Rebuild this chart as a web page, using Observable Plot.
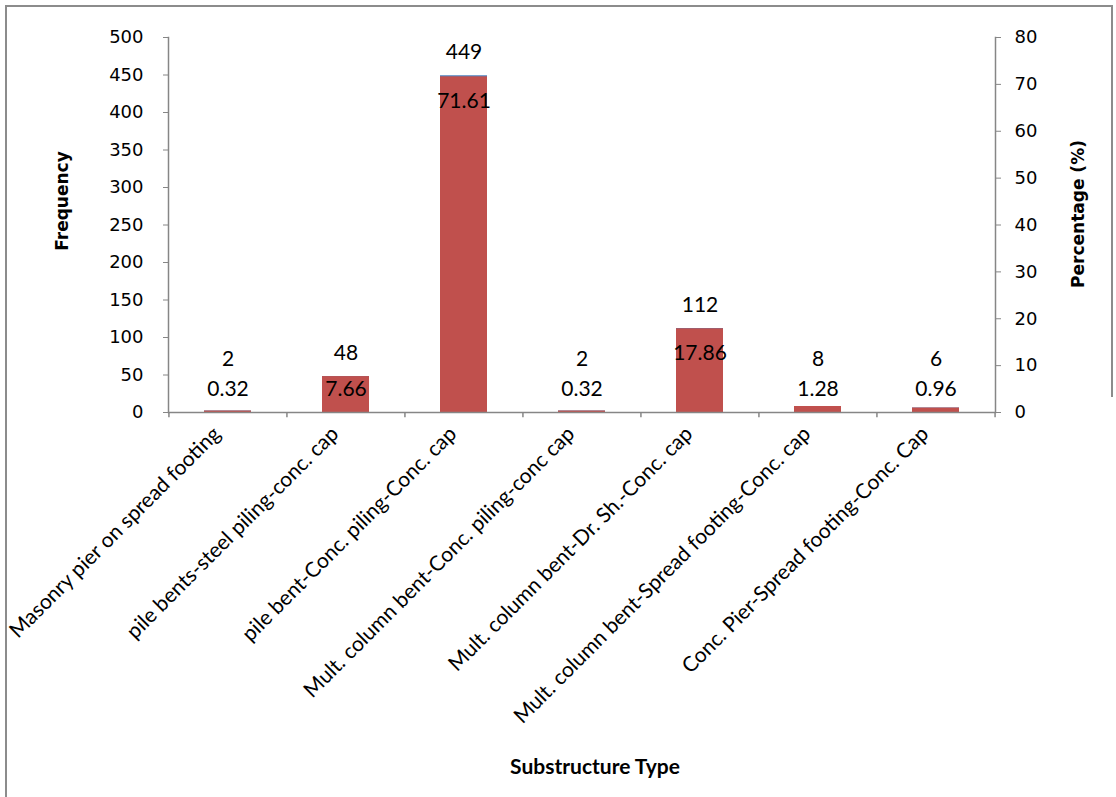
<!DOCTYPE html>
<html>
<head>
<meta charset="utf-8">
<script src="https://cdn.jsdelivr.net/npm/d3@7"></script>
<script src="https://cdn.jsdelivr.net/npm/@observablehq/plot@0.6"></script>
<style>
  html, body { margin: 0; padding: 0; background: white; }
  #wrap { position: relative; width: 1116px; height: 797px; background: white; overflow: hidden; }
  .layer { position: absolute; left: 0; top: 0; }
  .frameTop { position: absolute; left: 5px; top: 5px; width: 1108px; height: 0; border-top: 2px solid #8c8c8c; }
  .frameLeft { position: absolute; left: 5px; top: 5px; width: 0; height: 792px; border-left: 2px solid #8c8c8c; }
  .frameRight { position: absolute; left: 1111px; top: 5px; width: 0; height: 392px; border-left: 2px solid #8c8c8c; }
  .title { position: absolute; font-family: "DejaVu Sans", sans-serif; font-weight: bold; font-size: 17px; color: #000; white-space: nowrap; }
  .xtitle { position: absolute; font-family: Lato, sans-serif; font-weight: bold; font-size: 21px; color: #000; white-space: nowrap; }
</style>
</head>
<body>
<div id="wrap">
  <div class="frameTop"></div>
  <div class="frameLeft"></div>
  <div class="frameRight"></div>
  <div class="layer" id="p1"></div>
  <div class="layer" id="p2"></div>
  <div class="title" id="ytitleL">Frequency</div>
  <div class="title" id="ytitleR">Percentage (%)</div>
  <div class="xtitle" id="xtitle">Substructure Type</div>
</div>
<script>
// ---- data ----
const categories = [
  "Masonry pier on spread footing",
  "pile bents-steel piling-conc. cap",
  "pile bent-Conc. piling-Conc. cap",
  "Mult. column bent-Conc. piling-conc cap",
  "Mult. column bent-Dr. Sh.-Conc. cap",
  "Mult. column bent-Spread footing-Conc. cap",
  "Conc. Pier-Spread footing-Conc. Cap"
];
const frequency = [2, 48, 449, 2, 112, 8, 6];
const percentage = [0.32, 7.66, 71.61, 0.32, 17.86, 1.28, 0.96];
const freqTicks = [0, 50, 100, 150, 200, 250, 300, 350, 400, 450, 500];
const pctTicks = [0, 10, 20, 30, 40, 50, 60, 70, 80];

const rows = categories.map((c, i) => ({cat: c, freq: frequency[i], pct: percentage[i]}));

// ---- layout ----
const W = 1116, H = 760;
const M = {left: 168, right: 121, top: 37, bottom: 348};
const step = (W - M.left - M.right) / categories.length;
const axisGray = "#868686";
const blue = "#4F81BD", red = "#C0504D";
const numFont = "DejaVu Sans, sans-serif";
const lblFont = "Lato, sans-serif";

const xScale = {domain: categories, paddingInner: 0.6, paddingOuter: 0.3};

const common = {
  width: W, height: H,
  marginLeft: M.left, marginRight: M.right, marginTop: M.top, marginBottom: M.bottom,
  style: {background: "transparent", fontFamily: lblFont, overflow: "visible"}
};

// Frequency layer (left axis)
const p1 = Plot.plot({
  ...common,
  x: {...xScale, axis: null},
  y: {domain: [0, 500], axis: null},
  marks: [
    Plot.barY(rows, {x: "cat", y: "freq", fill: blue}),
    Plot.axisY({anchor: "left", ticks: freqTicks, tickSize: 5, tickPadding: 20, stroke: axisGray,
                fontSize: 18, fontFamily: numFont, label: null, tickFormat: d => String(d)}),
    Plot.frame({anchor: "left", stroke: axisGray, strokeWidth: 1.5}),
    Plot.text(rows, {x: "cat", y: d => Math.max(d.freq, 40), dy: -23, text: d => String(d.freq),
                     fontSize: 21, fontFamily: lblFont, fill: "black"})
  ]
});

// Percentage layer (right axis), drawn on top
const p2 = Plot.plot({
  ...common,
  x: {...xScale, axis: null},
  y: {domain: [0, 80], axis: null},
  marks: [
    Plot.barY(rows, {x: "cat", y: "pct", fill: red}),
    Plot.axisY({anchor: "right", ticks: pctTicks, tickSize: 5, tickPadding: 14, stroke: axisGray,
                fontSize: 18, fontFamily: numFont, label: null, tickFormat: d => String(d)}),
    Plot.frame({anchor: "right", stroke: axisGray, strokeWidth: 1.5}),
    Plot.ruleY([0], {stroke: axisGray, strokeWidth: 1.5}),
    // category boundary ticks
    Plot.ruleX(categories, {x: d => d, dx: -step / 2, y1: 0, y2: -1.1, stroke: axisGray, strokeWidth: 1.5}),
    Plot.ruleX(categories.slice(-1), {x: d => d, dx: step / 2, y1: 0, y2: -1.1, stroke: axisGray, strokeWidth: 1.5}),
    Plot.axisX({anchor: "bottom", tickSize: 0, tickRotate: -45, tickPadding: 18, fontSize: 21,
                fontFamily: lblFont, label: null, fill: "black", dx: -11}),
    Plot.text(rows, {x: "cat", y: d => Math.max(d.pct, 10), dy: 24, text: d => d.pct.toFixed(2),
                     fontSize: 21, fontFamily: lblFont, fill: "black"})
  ]
});

document.getElementById("p1").appendChild(p1);
document.getElementById("p2").appendChild(p2);

// axis titles
const yl = document.getElementById("ytitleL");
yl.style.left = "62px"; yl.style.top = "201px";
yl.style.transform = "translate(-50%, -50%) rotate(-90deg)";
const yr = document.getElementById("ytitleR");
yr.style.left = "1078px"; yr.style.top = "214px";
yr.style.transform = "translate(-50%, -50%) rotate(-90deg)";
const xt = document.getElementById("xtitle");
xt.style.left = "595px"; xt.style.top = "765px";
xt.style.transform = "translate(-50%, -50%)";
</script>
</body>
</html>
